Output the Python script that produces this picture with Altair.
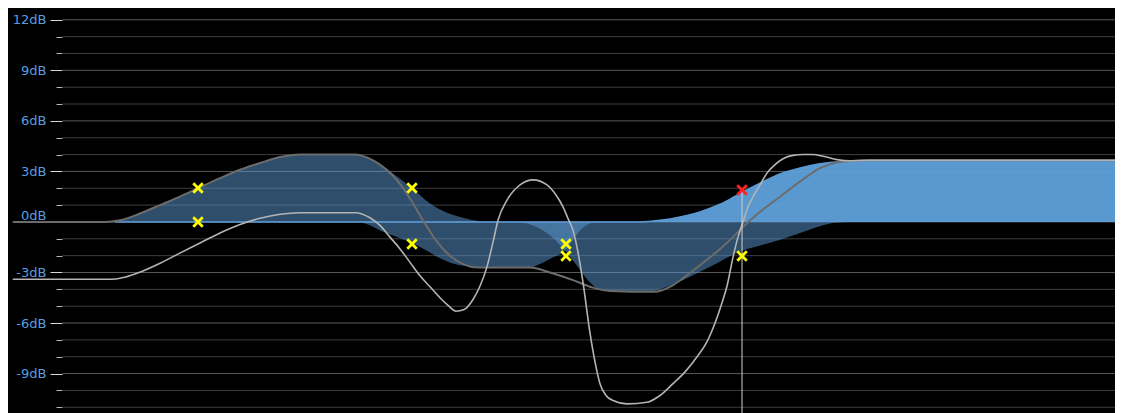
import altair as alt
import pandas as pd

# ---- data (frequency in Hz, gain in dB) ----
curve_a_hz = [20.6, 36.5, 40.0, 45.3, 51.3, 58.0, 64.9, 74.4, 84.2, 95.3, 107.9, 122.1, 171.7, 186.0,
              200.4, 215.9, 229.7, 244.4, 263.2, 281.7, 309.2, 335.1, 367.8, 507.6, 574.4, 662.6, 749.9,
              833.1, 1101.2, 1208.4, 1309.9, 1428.8, 1548.6, 1667.7, 1784.9, 1899.1, 2110.6, 2389.2,
              2703.9, 3060.3, 3400.1, 3686.0, 4171.7, 20000]
curve_a_db = [0, 0, 0.1, 0.5, 1.0, 1.5, 2.0, 2.6, 3.1, 3.5, 3.85, 4.0, 4.0, 3.8,
              3.4, 2.8, 2.1, 1.2, 0.0, -1.0, -2.0, -2.5, -2.7, -2.7, -3.0, -3.45, -3.9,
              -4.1, -4.15, -3.85, -3.35, -2.7, -2.1, -1.5, -0.9, -0.3, 0.6, 1.5,
              2.4, 3.2, 3.55, 3.62, 3.66, 3.66]

curve_b_hz = [20.6, 38.3, 41.3, 45.3, 51.3, 58.0, 65.7, 74.4, 84.2, 95.3, 107.9, 122.1, 171.7, 188.3, 200.4,
              213.2, 226.9, 241.4, 256.8, 273.2, 290.6, 305.4, 320.9, 337.2, 356.6, 372.4, 388.9, 403.6,
              416.3, 440.2, 477.1, 517.2, 563.9, 596.3, 622.7, 642.4, 662.6, 683.4, 705.0, 736.1, 759.2,
              783.1, 812.8, 848.9, 925.9, 1047.9, 1135.8, 1230.9, 1326.1, 1428.8, 1520.2, 1597.2, 1667.7,
              1720.2, 1784.9, 1841.1, 1899.1, 1958.7, 2020.5, 2110.6, 2203.5, 2316.2, 2433.8, 2589.1,
              2754.4, 2930.2, 3117.6, 3400.1, 3686.0, 4171.7, 20000]
curve_b_db = [-3.4, -3.4, -3.28, -2.98, -2.45, -1.85, -1.25, -0.65, -0.15, 0.22, 0.46, 0.55, 0.55, 0.25, -0.2,
              -0.9, -1.6, -2.4, -3.2, -3.85, -4.5, -4.95, -5.3, -5.2, -4.6, -3.8, -2.65, -1.2,
              0.1, 1.3, 2.2, 2.5, 2.2, 1.6, 0.9, 0.2, -0.5, -1.8, -3.6, -6.6, -8.3,
              -9.6, -10.3, -10.6, -10.8, -10.7, -10.3, -9.6, -8.9, -8.0, -7.1, -6.0, -4.8,
              -3.8, -2.1, -0.9, 0.0, 0.9, 1.5, 2.2, 2.9, 3.4, 3.75, 3.95,
              4.0, 4.0, 3.9, 3.7, 3.63, 3.66, 3.66]

# band fills
low_band_hz = [36.5, 40.0, 45.3, 51.3, 58.0, 64.9, 74.4, 84.2, 95.3, 107.9, 122.1, 171.7, 186.0,
               200.4, 222.7, 244.4, 273.2, 303.5, 329.0, 350.0, 379.4]
low_band_db = [0, 0.1, 0.5, 1.0, 1.5, 2.0, 2.6, 3.1, 3.5, 3.85, 4.0, 4.0, 3.8,
               3.4, 2.7, 2.0, 1.1, 0.55, 0.3, 0.15, 0.0]

mid_band_hz = [177.1, 188.3, 200.4, 219.9, 244.4, 264.9, 290.6, 318.9, 350.0, 384.1, 507.6, 540.0,
               585.3, 630.5, 662.6, 691.9, 727.0, 764.0]
mid_band_db = [0, -0.2, -0.5, -0.85, -1.25, -1.65, -2.15, -2.5, -2.65, -2.7, -2.7, -2.5,
               -2.1, -1.7, -1.05, -0.5, -0.15, 0.0]

upper_band_hz = [462.6, 501.4, 540.0, 585.3, 630.5, 679.2, 722.6, 783.1, 859.4, 1087.7, 1186.1, 1309.9,
                 1455.5, 1617.0, 1784.9, 1899.1, 2110.6, 2389.2, 2703.9, 3060.3, 3358.4, 3686.0]
upper_band_db = [0, -0.1, -0.4, -0.95, -1.7, -2.6, -3.4, -4.0, -4.1, -4.1, -3.85, -3.45,
                 -2.95, -2.45, -1.95, -1.7, -1.4, -1.05, -0.65, -0.25, -0.05, 0.0]

shelf_hz = [38.8, 1003.4, 1135.8, 1285.6, 1455.5, 1647.3, 1784.9, 1887.9, 2110.6, 2389.2, 2703.9,
            3060.3, 3463.7, 3920.9, 20000]
shelf_db = [0, 0, 0.1, 0.3, 0.6, 1.05, 1.45, 1.75, 2.3, 2.85, 3.2, 3.45, 3.57, 3.6, 3.6]

handle_hz = [64.9, 64.9, 244.4, 244.4, 634.4, 634.4, 1887.9, 1887.9]
handle_db = [2.02, 0.0, 2.02, -1.31, -1.31, -2.02, -2.02, 1.9]
handle_state = ["band", "band", "band", "band", "band", "band", "band", "selected"]

selected_hz = [1887.9]
selected_db = [1.9]

grid_db = list(range(-11, 13))
grid_start_hz = 28
grid_end_hz = 20000
freq_domain = [20, 19030]
bottom_db = -11.34
top_db = 12.7

# ---- chart ----
BLUE = "#5b9bd5"
xscale = alt.Scale(type="log", domain=freq_domain, nice=False)
yscale = alt.Scale(domain=[bottom_db, top_db], nice=False, zero=False)

yaxis = alt.Axis(
    values=grid_db,
    orient="left",
    offset=-54,
    domain=False,
    grid=False,
    title=None,
    labelExpr="datum.value % 3 === 0 ? datum.value + 'dB' : ''",
    labelColor="#5a9ee0",
    labelFont="DejaVu Sans",
    labelFontSize=13,
    labelPadding=4,
    labelOverlap=False,
    labelFlush=False,
    labelBound=False,
    tickSize={"condition": {"test": "datum.value % 3 === 0", "value": 12}, "value": 6},
    tickColor={"condition": {"test": "datum.value % 3 === 0", "value": "#d8d8d8"}, "value": "#b8b8b8"},
    tickOpacity={"condition": {"test": "datum.value === 0", "value": 0}, "value": 1},
    labelOffset={"condition": {"test": "datum.value === 0", "value": -6}, "value": 0},
    tickWidth=1,
)

X = lambda f: alt.X(f, scale=xscale, axis=None)
Y = lambda f: alt.Y(f, scale=yscale, axis=yaxis)

grid_df = pd.DataFrame({"db": grid_db})
grid_df["x0"] = grid_start_hz
grid_df["x1"] = grid_end_hz
grid_df["major"] = grid_df["db"] % 3 == 0

grid = alt.Chart(grid_df).mark_rule(strokeWidth=1, clip=True).encode(
    x=X("x0:Q"),
    x2="x1:Q",
    y=Y("db:Q"),
    color=alt.condition("datum.major", alt.value("#5a5a5a"), alt.value("#3e3e3e")),
)


def band(hz, db, color, opacity):
    df = pd.DataFrame({"hz": hz, "db": db})
    df["base"] = 0
    return alt.Chart(df).mark_area(interpolate="monotone", color=color, opacity=opacity, clip=True).encode(
        x=X("hz:Q"), y=Y("db:Q"), y2="base:Q",
    )


def curve(hz, db, color, width):
    df = pd.DataFrame({"hz": hz, "db": db})
    return alt.Chart(df).mark_line(interpolate="monotone", color=color, strokeWidth=width, clip=True).encode(
        x=X("hz:Q"), y=Y("db:Q"),
    )


low = band(low_band_hz, low_band_db, BLUE, 0.5)
mid = band(mid_band_hz, mid_band_db, BLUE, 0.5)
upper = band(upper_band_hz, upper_band_db, BLUE, 0.5)
shelf = band(shelf_hz, shelf_db, "#60a3dc", 0.94)
shelf_line = curve(shelf_hz, shelf_db, BLUE, 1.5)

line_a = curve(curve_a_hz, curve_a_db, "#6c6c6c", 2)
line_b = curve(curve_b_hz, curve_b_db, "#b4b4b4", 1.6)

sel_df = pd.DataFrame({"hz": selected_hz, "db": selected_db})
sel_df["bottom"] = bottom_db - 1
selector = alt.Chart(sel_df).mark_rule(color="#d0d0d0", strokeWidth=1, clip=True).encode(
    x=X("hz:Q"), y=Y("db:Q"), y2="bottom:Q",
)

handles_df = pd.DataFrame({"hz": handle_hz, "db": handle_db, "state": handle_state})
handles = alt.Chart(handles_df).mark_point(
    shape="M-1,-1L1,1M1,-1L-1,1", filled=False, size=90, strokeWidth=2.8, opacity=1, clip=True
).encode(
    x=X("hz:Q"), y=Y("db:Q"),
    color=alt.Color("state:N", scale=alt.Scale(domain=["band", "selected"], range=["#ffff00", "#ff2020"]), legend=None),
)

chart = alt.layer(grid, low, mid, upper, shelf, shelf_line, line_a, line_b, selector, handles).properties(
    width=1107,
    height=405,
    background="#000000",
    padding=0,
    autosize="none",
).configure_view(fill="#000000", stroke=None)

chart.save("out.html", embed_options={"renderer": "svg", "actions": False})
